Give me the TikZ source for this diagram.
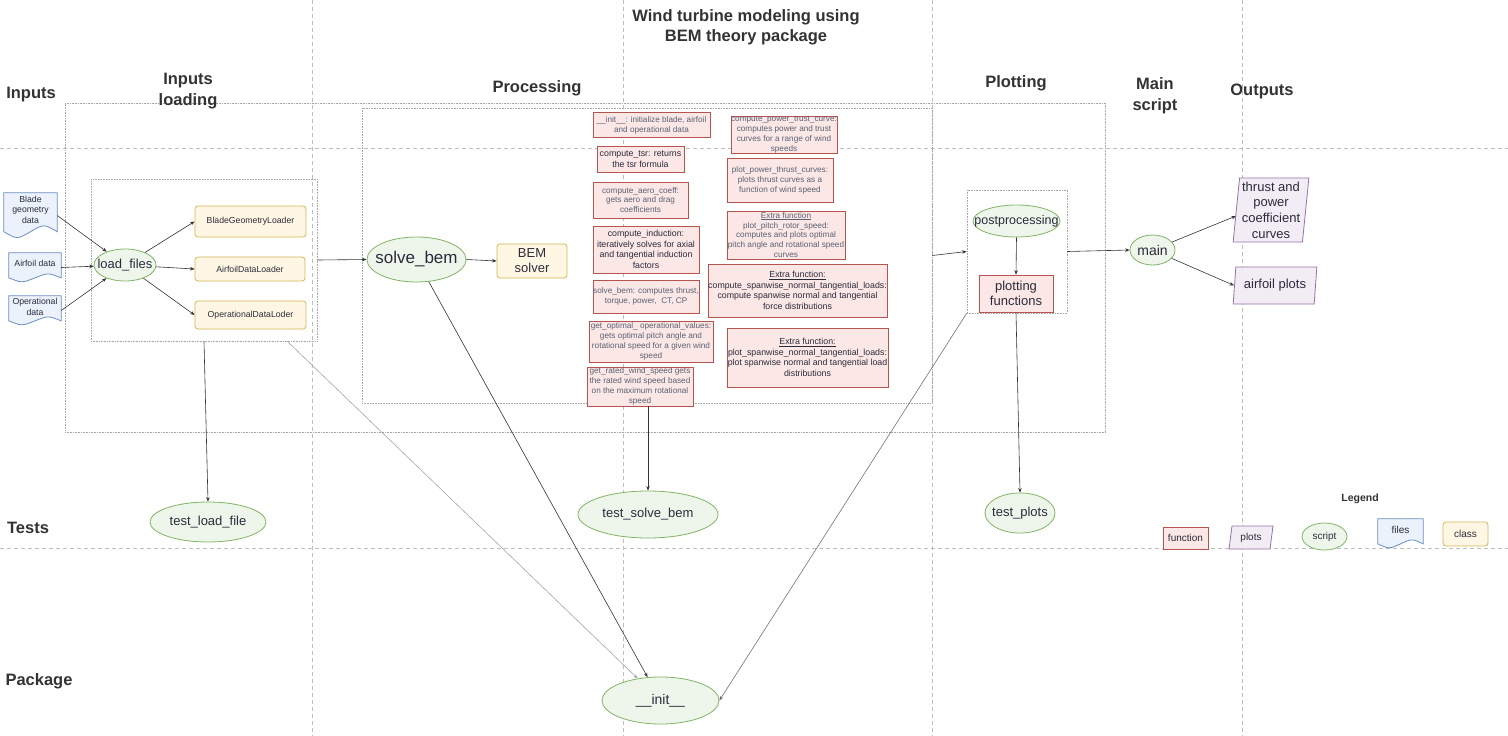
\documentclass[tikz,border=0pt]{standalone}
\usepackage{fontspec}
\setmainfont{Liberation Sans}
\usetikzlibrary{shapes.geometric,arrows.meta,calc}
\definecolor{fnD}{HTML}{B85450}\definecolor{fnF}{HTML}{FBE7E6}
\definecolor{clD}{HTML}{D6B656}\definecolor{clF}{HTML}{FFF7E3}
\definecolor{scD}{HTML}{82B366}\definecolor{scF}{HTML}{EEF6EC}
\definecolor{fiD}{HTML}{6C8EBF}\definecolor{fiF}{HTML}{EBF2FC}
\definecolor{plD}{HTML}{9673A6}\definecolor{plF}{HTML}{F2ECF5}
\definecolor{hd}{HTML}{333333}
\definecolor{txL}{HTML}{5A6272}
\definecolor{txD}{HTML}{2B2B3A}
\definecolor{ln}{HTML}{333333}
\definecolor{dv}{HTML}{BDBDBD}
\newcommand{\fsz}[2]{\fontsize{#1}{#2}\selectfont}
\newcommand{\zb}[1]{\makebox[0pt][c]{#1}}
\newcommand{\docpath}[2]{%
  \path[draw=fiD, fill=fiF, line width=0.8pt] (#1.north west) -- (#1.north east) -- ([yshift=#2*0.5]#1.south east)
   .. controls ([yshift=#2*1.1]$(#1.south west)!0.75!(#1.south east)$) .. ([yshift=#2*0.5]$(#1.south west)!0.5!(#1.south east)$)
   .. controls ([yshift=-#2*0.1]$(#1.south west)!0.25!(#1.south east)$) .. ([yshift=#2*0.5]#1.south west) -- cycle;}
\tikzset{
  fn/.style={draw=fnD, fill=fnF, line width=0.7pt, align=center, inner sep=0pt, text=txL, font=\fsz{8.2}{9.9}},
  fnd/.style={fn, text=txD, font=\fsz{8.8}{10.5}},
  cls/.style={draw=clD, fill=clF, rounded corners=3pt, line width=0.8pt, inner sep=0pt, align=center, text=txD, font=\fsz{8.7}{10}},
  scr/.style={ellipse, draw=scD, fill=scF, line width=0.8pt, inner sep=0pt, text=txD},
  plt/.style={trapezium, trapezium left angle=80, trapezium right angle=100, trapezium stretches=true, draw=plD, fill=plF, line width=0.8pt, inner sep=0pt, align=center, text=txD},
  filebox/.style={inner sep=0pt},
  filetxt/.style={align=center, font=\fsz{8.7}{10.5}, text=txD, inner sep=0pt},
  hdg/.style={font=\bfseries\fsz{16.5}{20.5}, text=hd, align=center},
  arr/.style={draw=ln, line width=0.6pt, -{Stealth[length=4.5pt,width=3.5pt]}},
  divider/.style={draw=dv, line width=0.8pt, dash pattern=on 4pt off 3pt},
  dotbox/.style={draw=gray!70, line width=0.7pt, dash pattern=on 0.8pt off 0.8pt, inner sep=0pt},
}
\begin{document}
\begin{tikzpicture}[x=1pt,y=-1pt]
\useasboundingbox (0,0) rectangle (1508,736);
\fill[white] (0,0) rectangle (1508,736);
% dividers
\foreach \xx in {312,623,932,1242} \draw[divider] (\xx,0) -- (\xx,736);
\foreach \yy in {148,548} \draw[divider] (0,\yy) -- (1508,\yy);
% dotted group boxes
\node[dotbox, minimum width=1040, minimum height=329] (bigbox) at (585,267.5) {};
\node[dotbox, minimum width=570, minimum height=295] (procbox) at (647,255.5) {};
\node[dotbox, minimum width=226, minimum height=162] (ilbox) at (204,260) {};
\node[dotbox, minimum width=100, minimum height=123] (plotbox) at (1017,251.5) {};
% headings
\node[hdg] (title) at (746,27.5) {Wind turbine modeling using\\BEM theory package};
\node[hdg] (hInputs) at (31,95) {Inputs};
\node[hdg] (hLoad) at (188,91) {Inputs\\loading};
\node[hdg] (hProc) at (537,88) {Processing};
\node[hdg] (hPlot) at (1016,83) {Plotting};
\node[hdg] (hMain) at (1155,95.5) {Main\\script};
\node[hdg] (hOut) at (1262,91) {Outputs};
\node[hdg] (hTests) at (28,528) {Tests};
\node[hdg] (hPack) at (39,681) {Package};
\node[font=\bfseries\fsz{10.5}{12}, text=hd] (hLeg) at (1360,499) {Legend};
% input files
\node[filebox, minimum width=53, minimum height=45] (f1) at (30.5,215.5) {};
\docpath{f1}{13pt}
\node[filetxt] (f1t) at ([yshift=6pt]f1.center) {Blade\\geometry\\data};
\node[filebox, minimum width=52, minimum height=29] (f2) at (35,267.5) {};
\docpath{f2}{8.7pt}
\node[filetxt] (f2t) at ([yshift=4.5pt]f2.center) {Airfoil data};
\node[filebox, minimum width=52, minimum height=29] (f3) at (35,310.5) {};
\docpath{f3}{8.7pt}
\node[filetxt] (f3t) at ([yshift=3.5pt]f3.center) {Operational\\data};
% loading
\node[scr, font=\fsz{13}{15}, minimum width=62, minimum height=32] (lf) at (125,265) {\zb{load\_files}};
\node[cls, minimum width=111, minimum height=31] (c1) at (250.5,221.5) {BladeGeometryLoader};
\node[cls, minimum width=110, minimum height=24] (c2) at (250,269) {AirfoilDataLoader};
\node[cls, minimum width=111, minimum height=28] (c3) at (250.5,315) {OperationalDataLoder};
% processing
\node[scr, font=\fsz{17}{19}, minimum width=99, minimum height=45] (sb) at (416.5,259.5) {\zb{solve\_bem}};
\node[cls, font=\fsz{13}{15}, minimum width=70, minimum height=34] (bem) at (532,261) {BEM\\solver};
\node[fn, minimum width=117, minimum height=25] (finit) at (651.5,125) {\_\_init\_\_: initialize blade, airfoil\\and operational data};
\node[fnd, minimum width=87, minimum height=26] (ftsr) at (640.5,159) {compute\_tsr: returns\\the tsr formula};
\node[fn, minimum width=95, minimum height=36] (faero) at (640.5,200) {compute\_aero\_coeff:\\gets aero and drag\\coefficients};
\node[fnd, minimum width=106, minimum height=47] (find) at (646,249.5) {compute\_induction:\\iteratively solves for axial\\and tangential induction\\factors};
\node[fn, minimum width=106, minimum height=33] (fsb) at (646,296.5) {solve\_bem: computes thrust,\\torque, power,\ \ CT, CP};
\node[fn, minimum width=124, minimum height=41] (fopt) at (651,341.5) {get\_optimal\_ operational\_values:\\gets optimal pitch angle and\\rotational speed for a given wind\\speed};
\node[fn, minimum width=106, minimum height=39] (gr) at (640,386.5) {get\_rated\_wind\_speed gets\\the rated wind speed based\\on the maximum rotational\\speed};
\node[fn, minimum width=106, minimum height=36] (fpc) at (784,135) {compute\_power\_trust\_curve:\\computes power and trust\\curves for a range of wind\\speeds};
\node[fn, minimum width=106, minimum height=44] (fppc) at (780,180) {plot\_power\_thrust\_curves:\\plots thrust curves as a\\function of wind speed};
\node[fn, minimum width=118, minimum height=48] (fprs) at (786,235) {\underline{Extra function}\\plot\_pitch\_rotor\_speed:\\computes and plots optimal\\pitch angle and rotational speed\\curves};
\node[fnd, minimum width=179, minimum height=53] (fcsl) at (797.5,290.5) {\underline{Extra function:}\\compute\_spanwise\_normal\_tangential\_loads:\\compute spanwise normal and tangential\\force distributions};
\node[fnd, minimum width=161, minimum height=59] (fpsl) at (807.5,357.5) {\underline{Extra function:}\\plot\_spanwise\_normal\_tangential\_loads:\\plot spanwise normal and tangential load\\distributions};
% plotting
\node[scr, font=\fsz{12.5}{15}, minimum width=87, minimum height=32] (pp) at (1016.5,221) {\zb{postprocessing}};
\node[fn, text=txD, font=\fsz{13}{15.5}, minimum width=74, minimum height=37] (pf) at (1016,293.5) {plotting\\functions};
% main & outputs
\node[scr, font=\fsz{14}{16}, minimum width=45, minimum height=30] (main) at (1152.5,250) {\zb{main}};
\node[plt, trapezium left angle=84, trapezium right angle=96, font=\fsz{13}{15.7}, minimum width=76, minimum height=64] (out1) at (1271,210) {thrust and\\power\\coefficient\\curves};
\node[plt, font=\fsz{13}{15}, minimum width=84, minimum height=37] (out2) at (1275,285.5) {airfoil plots};
% tests
\node[scr, font=\fsz{13}{15}, minimum width=116, minimum height=40] (tlf) at (208,522) {\zb{test\_load\_file}};
\node[scr, font=\fsz{13}{15}, minimum width=140, minimum height=47] (tsb) at (648,514.5) {\zb{test\_solve\_bem}};
\node[scr, font=\fsz{13}{15}, minimum width=70, minimum height=40] (tp) at (1020,513) {\zb{test\_plots}};
% package
\node[scr, font=\fsz{14}{16}, minimum width=117, minimum height=47] (init) at (660.5,700.5) {\zb{\_\_init\_\_}};
% legend
\node[fn, text=txD, font=\fsz{10}{12}, minimum width=45, minimum height=22] (lgfn) at (1185.5,538) {function};
\node[plt, font=\fsz{10}{12}, minimum width=44, minimum height=23] (lgpl) at (1251,537.5) {plots};
\node[scr, font=\fsz{10}{12}, minimum width=45, minimum height=27] (lgsc) at (1324.5,536.5) {\zb{script}};
\node[filebox, minimum width=45, minimum height=29] (lgfi) at (1400.5,533.5) {};
\docpath{lgfi}{8.7pt}
\node[filetxt, font=\fsz{10}{12}] (lgfit) at ([yshift=3.5pt]lgfi.center) {files};
\node[cls, font=\fsz{10}{12}, minimum width=45, minimum height=24] (lgcl) at (1465.5,534) {class};
% connectors
\draw[arr] (f1.east) -- (lf);
\draw[arr] (f2.east) -- (lf);
\draw[arr] (f3.east) -- (lf);
\draw[arr] (lf) -- (c1.west);
\draw[arr] (lf) -- (c2.west);
\draw[arr] (lf) -- (c3.west);
\draw[arr] (ilbox.east) -- (sb.west);
\draw[arr] (sb.east) -- (bem.west);
\draw[arr] (procbox.east) -- (plotbox.west);
\draw[arr] (pp.south) -- (pf.north);
\draw[arr] (plotbox.east) -- (main.west);
\draw[arr] (main) -- ([yshift=-6pt]out1.west);
\draw[arr] (main) -- (out2.west);
\draw[arr] (ilbox.south) -- (tlf.north);
\draw[arr] (tsb.north |- gr.south) -- (tsb.north);
\draw[arr] (pf.south) -- (tp.north);
\draw[arr] (sb) -- (init);
\draw[arr, draw=gray!70] ([xshift=-30pt]ilbox.south east) -- (init);
\draw[arr, draw=gray!90!black] (plotbox.south west) -- (init.east);
\end{tikzpicture}
\end{document}
